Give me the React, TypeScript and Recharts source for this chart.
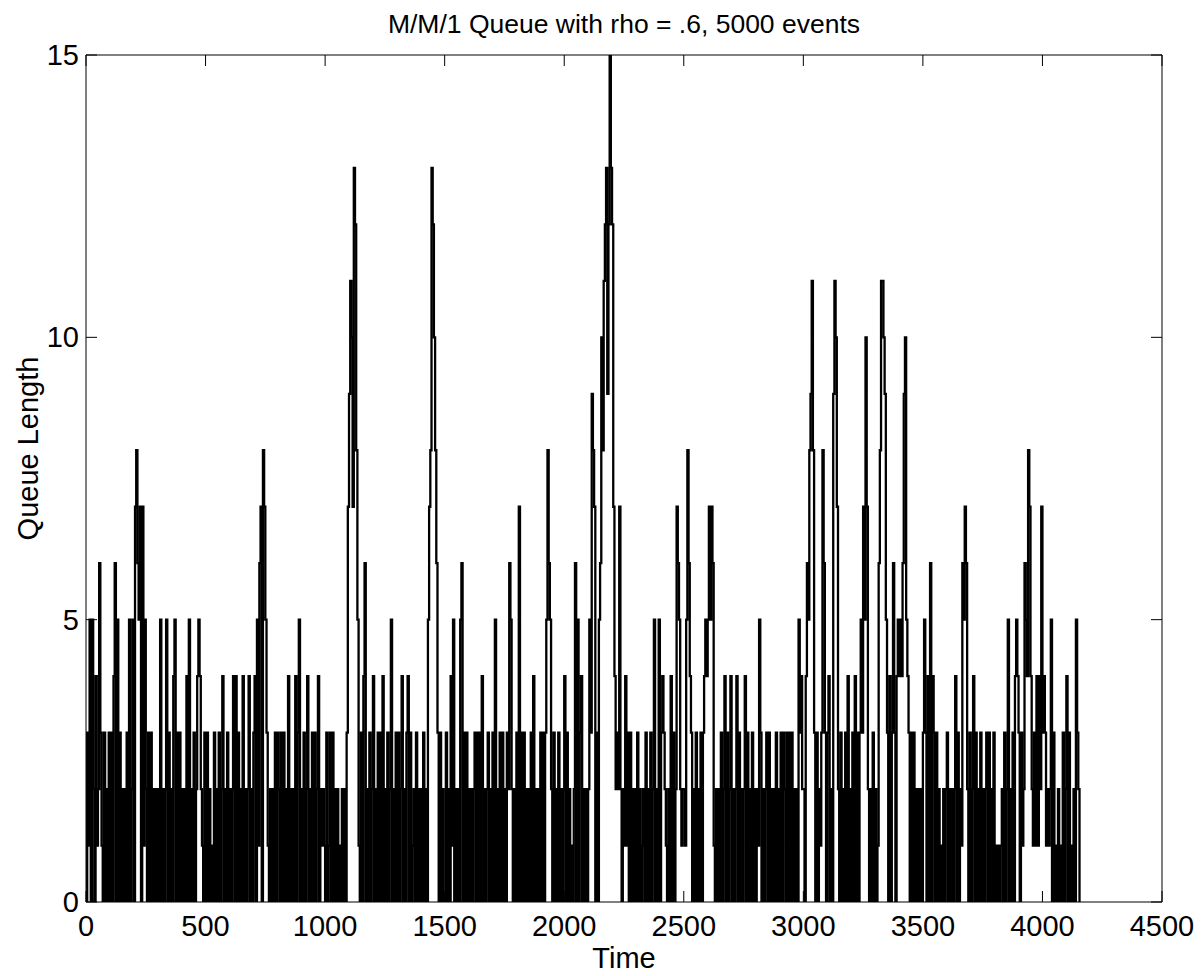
import React from "react";
import { LineChart, Line, XAxis, YAxis } from "recharts";

// queue length, one hex digit per 5 time units,
// one string per 500-unit stretch (spaces only group the digits)
const STEP = 5;
const segmentStarts = [0, 500, 1000, 1500, 2000, 2500, 3000, 3500, 4000];
const queueLevels = [
    "031 5052041263 1030203030 4605 030202030 502 507865707152 030302020 2050 202 503 020 450 30302020 4050 20302 454 2103",
    "03020103020302 40 2030202 404 03020 40 202 40 203 40516 70875 31020203032030302 04 02020 4 03 5 020302 4 02030 3 02 40 2121",
    "0301 3030 20 20102020 379ba7dc851 030 460 20302 4 0203030 4 020302 5 02030302 4 0203 4 0301203020203020 578dca86 303020",
    "03020 4 1 5 02020 560 30 3 020202 3 030 3 0 4 0202 3 02030 5 02030302032 65 202030 7 03030202030 4 02020 30303 5865 20302030202",
    "4 03020102 6050 3 4 02020 253987 030 56a8bcd9cfdc74 232 7 2021 4 13030202 030201203020302 5 020 5 03 43 21020 4 0302 765 212",
    "21 5864 3020302030 34545 7576 102020302 4 0302 4 0202 4 030202 4 03020302021 5 30202 303020 203020 30320303 0302020 5342",
    "2046589b83 030213 86 303 4 020 9ba7 20302030 4 02030 40 303 5375a7 202030201 68bba95 30403 6 30 4545469 a54 303030202020",
    "35 30 406043 0302010202 3 020202 4 03021 6576 20302 4 0302030202 3030203 010101 20302 5 020 30454 3031 2 65487 4 2131 414 2 7",
    "34312125 030102010 3 02 4 0301020 5320",
];

const xTicks = [0, 500, 1000, 1500, 2000, 2500, 3000, 3500, 4000, 4500];
const yTicks = [0, 5, 10, 15];

const title = "M/M/1 Queue with rho = .6, 5000 events";
const xLabel = "Time";
const yLabel = "Queue Length";

const data = segmentStarts.flatMap((start, s) =>
    queueLevels[s]
        .replace(/\s/g, "")
        .split("")
        .map((c, k) => ({ time: start + k * STEP, len: parseInt(c, 16) }))
);

const FONT = "'Liberation Sans', Arial, Helvetica, sans-serif";
const FS = 29;
const TITLE_FS = 26.5;
const TICK = 11;

const BottomTick = ({ x, y, payload }: any) => (
    <g>
        <line x1={x} y1={y} x2={x} y2={y - TICK} stroke="#000" />
        <text x={x} y={y + 34} textAnchor="middle" fontSize={FS} fontFamily={FONT} fill="#000">
            {payload.value}
        </text>
    </g>
);

const TopTick = ({ x, y }: any) => <line x1={x} y1={y} x2={x} y2={y + TICK} stroke="#000" />;

const LeftTick = ({ x, y, payload }: any) => (
    <g>
        <line x1={x} y1={y} x2={x + TICK} y2={y} stroke="#000" />
        <text x={x - 7} y={y + 10} textAnchor="end" fontSize={FS} fontFamily={FONT} fill="#000">
            {payload.value}
        </text>
    </g>
);

const RightTick = ({ x, y }: any) => <line x1={x} y1={y} x2={x - TICK} y2={y} stroke="#000" />;

const TitleLabel = ({ viewBox }: any) => (
    <text
        x={viewBox.x + viewBox.width / 2}
        y={viewBox.y + viewBox.height - 22}
        textAnchor="middle"
        fontSize={TITLE_FS}
        fontFamily={FONT}
        fill="#000"
    >
        {title}
    </text>
);

const TimeLabel = ({ viewBox }: any) => (
    <text x={viewBox.x + viewBox.width / 2} y={viewBox.y + 66} textAnchor="middle" fontSize={FS} fontFamily={FONT} fill="#000">
        {xLabel}
    </text>
);

const QueueLabel = ({ viewBox }: any) => {
    const cx = 38;
    const cy = viewBox.y + viewBox.height / 2 - 30;
    return (
        <text x={cx} y={cy} transform={`rotate(-90 ${cx} ${cy})`} textAnchor="middle" fontSize={FS} fontFamily={FONT} fill="#000">
            {yLabel}
        </text>
    );
};

export default function App() {
    return (
        <div style={{ position: "absolute", left: 0, top: 0, width: 1201, height: 976, background: "#fff" }}>
            <LineChart width={1201} height={976} data={data} margin={{ top: 0, right: 0, bottom: 0, left: 0 }}>
                <XAxis
                    xAxisId="b"
                    dataKey="time"
                    type="number"
                    domain={[0, 4500]}
                    ticks={xTicks}
                    interval={0}
                    height={74}
                    tickSize={0}
                    tickMargin={0}
                    tickLine={false}
                    tick={<BottomTick />}
                    axisLine={{ stroke: "#000" }}
                    allowDataOverflow
                    label={<TimeLabel />}
                />
                <XAxis
                    xAxisId="t"
                    orientation="top"
                    dataKey="time"
                    type="number"
                    domain={[0, 4500]}
                    ticks={xTicks}
                    interval={0}
                    height={55}
                    tickSize={0}
                    tickMargin={0}
                    tickLine={false}
                    tick={<TopTick />}
                    axisLine={{ stroke: "#000" }}
                    allowDataOverflow
                    label={<TitleLabel />}
                />
                <YAxis
                    yAxisId="l"
                    type="number"
                    domain={[0, 15]}
                    ticks={yTicks}
                    interval={0}
                    width={86}
                    tickSize={0}
                    tickMargin={0}
                    tickLine={false}
                    tick={<LeftTick />}
                    axisLine={{ stroke: "#000" }}
                    allowDataOverflow
                    label={<QueueLabel />}
                />
                <YAxis
                    yAxisId="r"
                    orientation="right"
                    type="number"
                    domain={[0, 15]}
                    ticks={yTicks}
                    interval={0}
                    width={39}
                    tickSize={0}
                    tickMargin={0}
                    tickLine={false}
                    tick={<RightTick />}
                    axisLine={{ stroke: "#000" }}
                    allowDataOverflow
                />
                <Line
                    xAxisId="b"
                    yAxisId="l"
                    type="stepAfter"
                    dataKey="len"
                    stroke="#000"
                    strokeWidth={2.3}
                    dot={false}
                    isAnimationActive={false}
                />
            </LineChart>
        </div>
    );
}
